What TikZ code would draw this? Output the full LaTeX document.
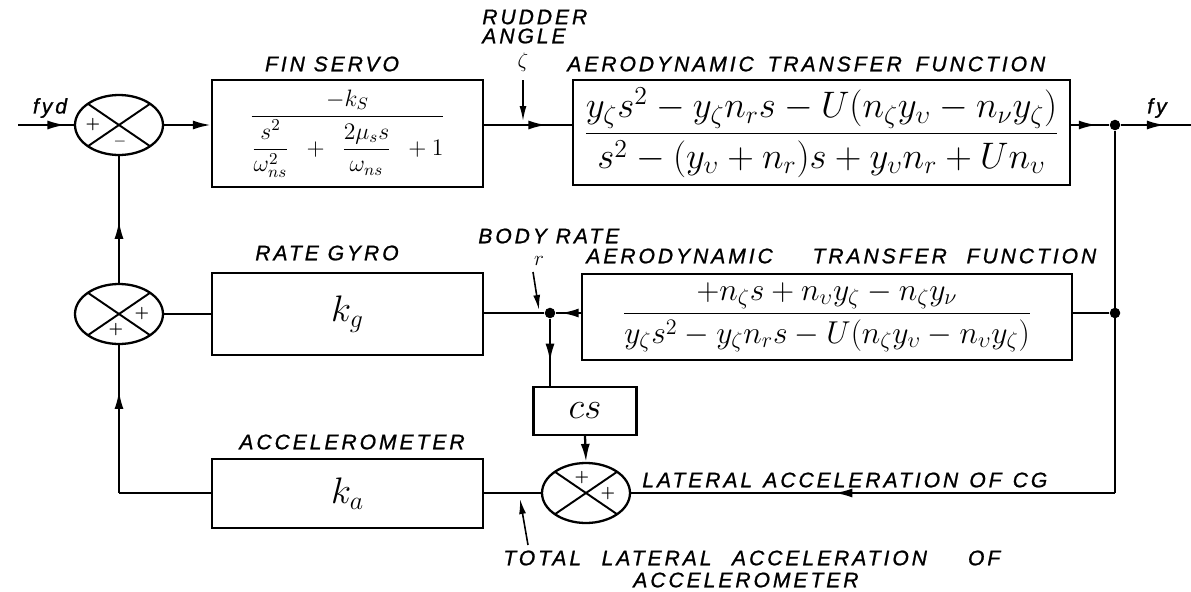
\RequirePackage{fix-cm}
\documentclass[tikz,border=0pt]{standalone}
\usepackage{fontspec}
\usepackage{amsmath}
\newfontfamily\lblfont[LetterSpace=14,FakeBold=1]{Liberation Sans}
\usetikzlibrary{arrows.meta,positioning,shapes.geometric,decorations.markings}

\tikzset{
  blk/.style={draw, line width=1.3pt, minimum width=5.42cm, inner sep=2pt},
  sumj/.style={draw, ellipse, line width=1.3pt, minimum width=1.76cm, minimum height=1.2cm, inner sep=0pt,
    path picture={\draw[line width=1.1pt] (path picture bounding box.north west) -- (path picture bounding box.south east)
      (path picture bounding box.north east) -- (path picture bounding box.south west);}},
  sig/.style={line width=1.3pt},
  midarr/.style={postaction={decorate}, decoration={markings, mark=at position #1 with {\arrow{Latex[length=3.6mm,width=1.8mm]}}}},
  tip/.style={-{Latex[length=3.6mm,width=1.8mm]}},
  ptr/.style={line width=0.9pt, -{Latex[length=3mm,width=1.4mm]}},
  lbl/.style={font=\lblfont\itshape\fontsize{12}{14}\selectfont, inner sep=0pt},
  sgn/.style={font=\bfseries\small, inner sep=0pt},
  dot/.style={circle, fill, inner sep=0pt, minimum size=6pt},
}
\newcommand{\spread}[2]{\makebox[#1][s]{#2}}
\newcommand{\fsz}[1]{\fontsize{#1}{#1}\selectfont}

\begin{document}
\begin{tikzpicture}[x=0.02cm, y=-0.02cm]
  \useasboundingbox (0,0) rectangle (1191,592);

  % summing junctions
  \node[sumj] (s1) at (119,125) {};
  \node[sumj] (s2) at (119,314) {};
  \node[sumj] (s3) at (586,493) {};
  \node[sgn] (s1a) at (93,125) {+};
  \node[sgn] (s1b) at (120,142) {$-$};
  \node[sgn] (s2a) at (142,314) {+};
  \node[sgn] (s2b) at (116,330) {+};
  \node[sgn] (s3a) at (582,478) {+};
  \node[sgn] (s3b) at (608,494) {+};

  % blocks
  \node[blk, minimum height=2.14cm] (fs) at (347.5,133.5)
    {\fsz{13.5}$\dfrac{-k_S}{\dfrac{s^2}{\omega_{ns}^2}\enspace+\enspace\dfrac{2\mu_s s}{\omega_{ns}}\enspace+1}$};
  \node[blk, minimum width=9.94cm, minimum height=2.1cm] (a1) at (821.5,132.5)
    {\fsz{21}$\dfrac{y_\zeta s^2-y_\zeta n_r s-U(n_\zeta y_\upsilon-n_\nu y_\zeta)}{s^2-(y_\upsilon+n_r)s+y_\upsilon n_r+Un_\upsilon}$};
  \node[blk, minimum height=1.64cm] (rg) at (347.5,314) {\fsz{21}$k_g$};
  \node[blk, minimum width=9.8cm, minimum height=1.72cm] (a2) at (827,317)
    {\fsz{18}$\dfrac{+n_\zeta s+n_\upsilon y_\zeta-n_\zeta y_\nu}{y_\zeta s^2-y_\zeta n_r s-U(n_\zeta y_\upsilon-n_\upsilon y_\zeta)}$};
  \node[blk, minimum width=2.06cm, minimum height=0.96cm] (cs) at (585,411) {\fsz{21}$cs$};
  \node[blk, minimum height=1.38cm] (ac) at (347.5,493.5) {\fsz{21}$k_a$};

  % branch points
  \node[dot] (j1) at (1115,125) {};
  \node[dot] (j2) at (1115,313) {};
  \node[dot] (j3) at (550,313) {};
  \coordinate (fydin) at (18,125);
  \coordinate (fyout) at (1191,125);
  \coordinate (cgc) at (1115,493);
  \coordinate (acc) at (119,493);

  % signal lines
  \draw[sig, midarr=0.85] (fydin) -- (s1.west);
  \draw[sig, tip] (s1.east) -- (fs.west |- s1);
  \draw[sig, midarr=0.71] (fs.east |- s1) -- (a1.west |- s1);
  \draw[sig, midarr=0.67] (a1.east |- s1) -- (j1);
  \draw[sig, midarr=0.63] (j1) -- (fyout);
  \draw[sig] (j1) -- (cgc);
  \draw[sig, midarr=0.58] (cgc) -- (s3.east);
  \draw[sig] (j2) -- (a2.east |- j2);
  \draw[sig, midarr=0.8] (a2.west |- j3) -- (j3);
  \draw[sig] (j3) -- (rg.east |- j3);
  \draw[sig, midarr=0.64] (j3) -- (j3 |- cs.north);
  \draw[sig, tip] (cs.south) -- (s3.north);
  \draw[sig] (s3.west) -- (ac.east |- s3);
  \draw[sig] (ac.west |- s3) -- (acc);
  \draw[sig, midarr=0.69] (acc) -- (s2.south);
  \draw[sig] (s2.east) -- (rg.west |- s2);
  \draw[sig, midarr=0.49] (s2.north) -- (s1.south);

  % pointers
  \coordinate (rudp) at (523,80);
  \coordinate (rudq) at (523,121);
  \coordinate (brp) at (533,272);
  \coordinate (brq) at (539,310);
  \coordinate (tlp) at (528,545);
  \coordinate (tlq) at (520,499);
  \draw[ptr] (rudp) -- (rudq);
  \draw[ptr] (brp) -- (brq);
  \draw[ptr] (tlp) -- (tlq);

  % labels
  \node[lbl] (fydl) at (50,108) {fyd};
  \node[lbl] (fyl) at (1157,108) {fy};
  \node[lbl] (fsl) at (332,64) {FIN SERVO};
  \node[lbl, anchor=west] (rudl) at (482,17) {RUDDER};
  \node[lbl, anchor=west] (angl) at (482,36) {ANGLE};
  \node[font=\large] (zetl) at (523,62) {$\zeta$};
  \node[lbl, anchor=west] (a1l) at (567,64) {\spread{9.56cm}{AERODYNAMIC \ TRANSFER \ FUNCTION}};
  \node[lbl, anchor=west] (rgl) at (255,253) {RATE GYRO};
  \node[lbl, anchor=west] (brl) at (478,236) {BODY RATE};
  \node[font=\large, inner sep=0pt] (rl) at (539,261) {$r$};
  \node[lbl, anchor=west] (a2l) at (586,256) {\spread{10.2cm}{AERODYNAMIC \ TRANSFER FUNCTION}};
  \node[lbl, anchor=east] (acl) at (465,442) {ACCELEROMETER};
  \node[lbl, anchor=west] (cgl) at (642,480) {\spread{8.1cm}{LATERAL ACCELERATION OF CG}};
  \node[lbl, anchor=west] (tll) at (503,558) {\spread{9.94cm}{TOTAL LATERAL ACCELERATION \ OF}};
  \node[lbl, anchor=west] (tl2) at (633,580) {\spread{4.8cm}{ACCELEROMETER}};
\end{tikzpicture}
\end{document}
